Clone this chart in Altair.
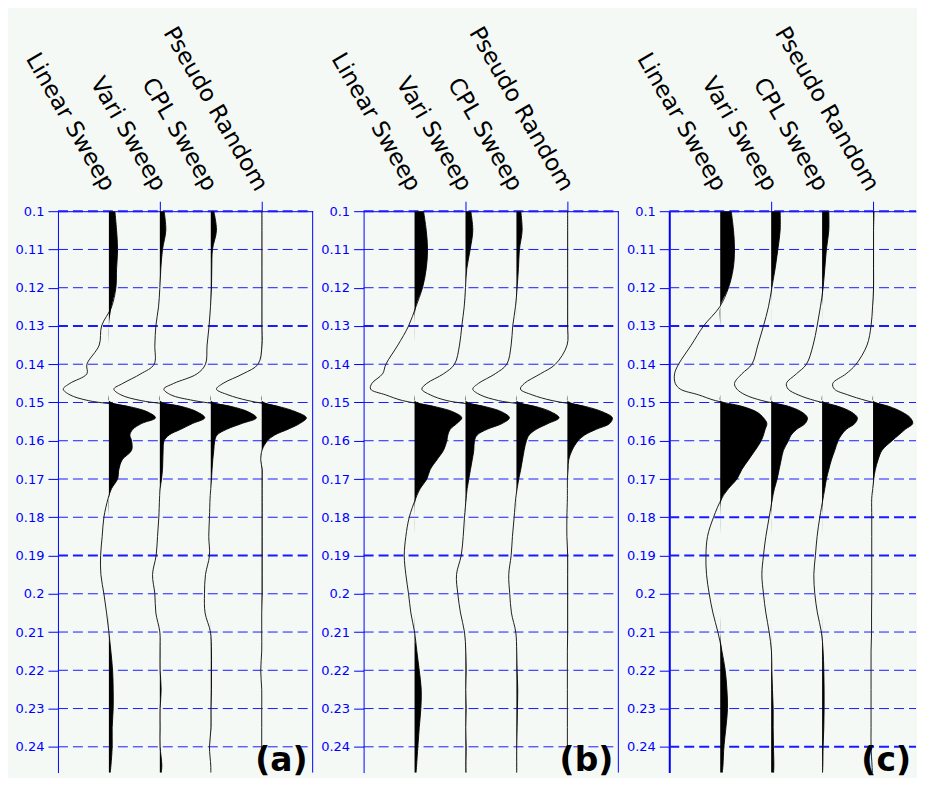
import altair as alt
import pandas as pd

# ---------------- data ----------------
trace_names = ["Linear Sweep", "Vari Sweep", "CPL Sweep", "Pseudo Random"]
panel_keys = ["a", "b", "c"]

times = [0.100, 0.105, 0.110, 0.115, 0.120, 0.125, 0.130, 0.135, 0.140,
         0.1425, 0.145, 0.1465, 0.148, 0.1495, 0.151, 0.1525, 0.154,
         0.1555, 0.157, 0.1585, 0.160, 0.1625, 0.165, 0.1675, 0.170,
         0.1725, 0.175, 0.180, 0.185, 0.190, 0.195, 0.200, 0.205, 0.210,
         0.215, 0.220, 0.225, 0.230, 0.235, 0.240, 0.245, 0.2475]

# amplitudes (same units for every trace)
a_linear = [6, 7.7, 8.7, 7.7, 7, 2.7, -7.3, -9.7, -22, -22, -39, -45.7, -39, -20.7,
            19, 39, 46.7, 32.7, 24, 21, 22.7, 22.7, 13.3, 10, 8.7, 2.7, -0.7,
            -5, -6.7, -8.3, -8, -5, -2.3, 0, 2, 3.7, 4.3, 4.3, 3.3, 3.3, 2, 1]
a_vari = [4.3, 6, 2.7, 1, 0, -1.3, -4, -5, -5.7, -19, -37, -46, -39, -19,
          21, 37.7, 45, 32.7, 21, 9.3, 4.3, 3.3, 3, 2.7, 1.7, 0.3, -0.3,
          -1, -2.3, -3.7, -7.3, -5, -4, 0, 0.3, 0.3, 1.3, 0.3, 0.3, 0.3, 2, 1]
a_cpl = [3, 5.7, 1.7, 1, 0.7, -0.3, -1.7, -3.7, -5.3, -13.7, -37, -47, -40, -17,
         19.7, 38, 45.7, 31, 16, 6.3, 4, 3, 2, 1.3, 0.7, 0, -0.7,
         -1.3, -2, -1.3, -5.3, -6.3, -5.7, -0.3, 0.7, 0.7, 0.7, 0.3, 0.3, -1.3, 0, 0]
a_pseudo = [0.3, 0.3, 0.3, 0.3, 0.3, 0.3, 0.3, 0.3, -3.7, -18.7, -38.7, -45.3, -33.7, -13.7,
            16.3, 34.7, 44.7, 38, 26.3, 13, 5.7, 0.3, -1, 0.5, 0.5, 0.5, 0.5,
            0.5, 0.5, 0.5, 0.5, 0.5, 0, 0, 0, -1, 0, 0, 0, 0, 0, 0]

b_linear = [9, 11.7, 13, 11.7, 8, 1.3, -6, -16.7, -28.7, -32, -42.7, -44, -29, -12,
            19, 39, 47.3, 42.3, 35.7, 33.3, 32.3, 29, 22.3, 15.7, 12.3, 5.7, 1.3,
            -5.3, -8.7, -10.3, -8.7, -6, -3.7, 0, 2.3, 4.7, 6.7, 6.3, 4.7, 3.3, 2, 1.3]
b_vari = [5.3, 7.3, 4.7, 1.3, 0, -1.3, -3.7, -6, -11, -22, -38.7, -43.7, -35.3, -18.7,
          18.3, 36.7, 44, 36.7, 21.7, 11.7, 9, 8.3, 6.7, 5, 3.3, 1.7, 0.7,
          -1, -2.3, -4.3, -9, -7.7, -5, -1, 0.3, 0.7, 0.3, 0.7, 0.3, 0.7, 0.5, 0.7]
b_cpl = [4.3, 5.7, 3, 2, 0.7, -1, -3.7, -5.3, -9.7, -21.3, -38, -43.7, -36.3, -18,
         18.3, 35, 42.7, 31.7, 20, 12.7, 10, 7.7, 6, 4.3, 2.3, 0.7, -0.7,
         -2.3, -4, -5.3, -7.7, -6.7, -5, -0.7, 0.3, 0.7, 1.3, 1, 0.7, 0.3, 0.3, 0.3]
b_pseudo = [0.3, 0.3, 0.3, 0.3, 0.3, 0.3, 0.3, -0.3, -12, -27, -43, -47, -35.3, -15.3,
            17.3, 35.7, 45, 42.3, 29, 17.3, 10.7, 4.7, 1.3, 0.7, 0, 0, 0,
            -0.5, -0.5, 0.3, 0.3, 0.3, 0.3, 0.3, 0, 0, 0, 0, 0, 0, 0.3, 0.3]

c_linear = [11, 13.3, 14.3, 13, 8.3, -0.5, -16.7, -29, -41.7, -45.7, -45, -40, -21.7, -5,
            21.7, 36.7, 43.3, 46.7, 45, 43.3, 41, 35, 28.3, 21.7, 16.7, 8.3, 1.7,
            -6.7, -12.7, -14.3, -13.7, -11, -7.3, -2.3, 1.7, 5, 6.7, 7.3, 5.7, 3.7, 2.7, 1.7]
c_vari = [9, 9, 6.7, 4, 0.7, -2.7, -7.7, -13.3, -19.3, -29.3, -36.7, -34.3, -26, -9.3,
          17.3, 30.7, 36.3, 34, 25.7, 20, 17.3, 12.3, 10, 8, 6, 3.3, 1.3,
          -2, -5.3, -7.7, -9.3, -7.7, -5.3, -2, 0.3, 0.7, 1.3, 2, 2, 2.3, 2.7, 2.3]
c_cpl = [6.7, 6.7, 4.3, 2.7, 1, -1.7, -5, -9, -15.7, -25.7, -35.7, -34, -24, -7.3,
         16, 29.3, 35.3, 32.7, 24.3, 19.3, 16, 12.7, 9.3, 6.7, 4.3, 2.7, 1,
         -2.3, -5, -6.7, -8.3, -7.3, -4.7, -0.7, 1, 1.7, 2, 2, 1.7, 1, 0.7, 0.3]
c_pseudo = [1, 0.5, 0.5, 0.5, 0.5, -0.5, -2, -6, -17, -27, -40.3, -38.7, -25.3, -7,
            15.7, 29, 37.3, 39.7, 32.3, 25.7, 19, 9, 5, 2.3, 0.7, -0.3, -1.3,
            -1.3, -1.3, -1.3, -1.3, -1.3, -1.5, -1.5, -2, -2, -2, -2, -2, -2, -1, -0.5]

time_ticks = [0.1, 0.11, 0.12, 0.13, 0.14, 0.15, 0.16, 0.17, 0.18, 0.19,
              0.2, 0.21, 0.22, 0.23, 0.24]

# ---------------- styling ----------------
BLUE = "#0000ff"
GRID_BLUE = "#1a1aff"
BG = "#f4f9f6"
GAIN = 1.0 / 51.0          # amplitude units per trace spacing
PH = 562                   # plot height
YMAX = 0.1 + PH / 3830.0
heavy_lines = {"a": [0.1, 0.13, 0.19],
               "b": [0.1, 0.13, 0.19],
               "c": [0.1, 0.13, 0.18, 0.19, 0.24]}

series = {
    "a": [a_linear, a_vari, a_cpl, a_pseudo],
    "b": [b_linear, b_vari, b_cpl, b_pseudo],
    "c": [c_linear, c_vari, c_cpl, c_pseudo],
}

rows = []
for p in panel_keys:
    for i, amps in enumerate(series[p]):
        for t, a in zip(times, amps):
            rows.append({"panel": p, "trace": i + 1, "t": t, "amp": a})
df = pd.DataFrame(rows)

hdr_df = pd.DataFrame({"trace": [1, 2, 3, 4], "name": trace_names})
dummy = pd.DataFrame({"k": [0]})


def make_panel(key, width, xmax, right_frame, domain_w):
    xscale = alt.Scale(domain=[0, xmax], nice=False, zero=False)
    yscale = alt.Scale(domain=[0.1, YMAX], nice=False, zero=False, reverse=True)
    yaxis = alt.Axis(values=time_ticks, format=".2~f", grid=False, title=None,
                     domain=True, domainColor=BLUE, domainWidth=domain_w,
                     ticks=True, tickColor=BLUE, tickSize=10,
                     labelColor=BLUE, labelFont="DejaVu Sans",
                     labelFontSize=13, labelPadding=4)
    xaxis = alt.Axis(orient="top", values=[2, 4], labels=False, title=None,
                     tickSize=10, tickColor=BLUE, domain=True,
                     domainColor=BLUE, grid=False)
    d = df[df.panel == key]

    gdf = pd.DataFrame({"t": time_ticks,
                        "heavy": [t in heavy_lines[key] for t in time_ticks]})
    grid = alt.Chart(gdf).mark_rule(color=GRID_BLUE, strokeDash=[10, 5]).encode(
        y=alt.Y("t:Q", scale=yscale, axis=yaxis),
        x=alt.value(0), x2=alt.value(width),
        strokeWidth=alt.condition("datum.heavy", alt.value(2), alt.value(1)),
    )

    line = alt.Chart(d).transform_calculate(
        xpos=f"datum.trace + datum.amp * {GAIN}"
    ).mark_line(color="#202020", strokeWidth=1, interpolate="catmull-rom",
                clip=True).encode(
        x=alt.X("xpos:Q", scale=xscale, axis=xaxis),
        y=alt.Y("t:Q", scale=yscale, axis=yaxis),
        detail="trace:N",
        order="t:Q",
    )

    area = alt.Chart(d).transform_calculate(
        xfill=f"datum.trace + max(datum.amp, 0) * {GAIN}"
    ).mark_area(orient="horizontal", color="black", interpolate="catmull-rom",
                clip=True).encode(
        x=alt.X("xfill:Q", scale=xscale, axis=xaxis),
        x2="trace:Q",
        y=alt.Y("t:Q", scale=yscale, axis=yaxis),
        detail="trace:N",
    )

    hdr = alt.Chart(hdr_df).mark_text(
        angle=60, align="right", baseline="middle", font="DejaVu Sans",
        fontSize=23, color="black"
    ).encode(
        x=alt.X("trace:Q", scale=xscale, axis=xaxis),
        y=alt.value(-22),
        text="name:N",
    )

    lbl = alt.Chart(dummy).mark_text(
        align="right", baseline="alphabetic", font="DejaVu Sans",
        fontWeight="bold", fontSize=33, color="black"
    ).encode(x=alt.value(width - 5), y=alt.value(PH - 2),
             text=alt.value(f"({key})"))

    layers = [grid, line, area, hdr, lbl]
    if right_frame:
        rf = alt.Chart(dummy).mark_rule(color=BLUE, strokeWidth=1).encode(
            x=alt.value(width), y=alt.value(0), y2=alt.value(PH))
        layers.append(rf)
    return alt.layer(*layers).properties(width=width, height=PH)


pa = make_panel("a", 255, 5.0, True, 1)
pb = make_panel("b", 255, 5.0, True, 1)
pc = make_panel("c", 247, 247 / 51.0, False, 2)

chart = alt.hconcat(pa, pb, pc, spacing=7).properties(
    background=BG,
    padding={"left": 7, "top": 14, "right": 0, "bottom": 0},
).configure_view(stroke=None)

chart.save("out.html", embed_options={"renderer": "svg", "actions": False})
